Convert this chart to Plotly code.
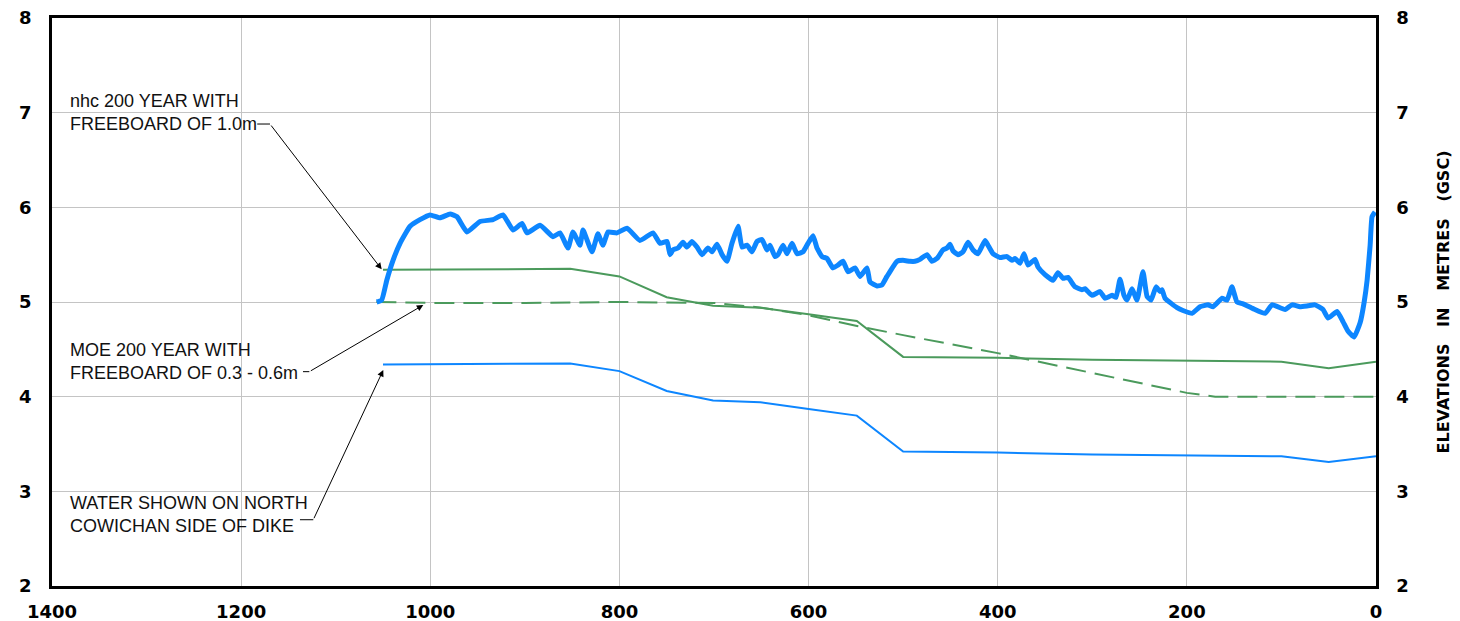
import plotly.graph_objects as go

# Dike crest / ground profile (thick blue), chainage in metres
ground_x = [1056.7, 1051.4, 1046.0, 1039.4, 1032.0, 1021.4, 1010.9, 1000.3, 989.7, 979.1, 971.7,
            961.2, 947.4, 933.7, 923.1, 912.5, 903.0, 897.7, 884.0, 870.2, 862.8, 854.4, 849.1,
            841.7, 838.5, 829.0, 822.7, 817.4, 812.1, 802.6, 792.0, 778.3, 764.5, 757.1,
            749.7, 746.5, 743.4, 738.1, 732.8, 728.6, 723.3, 718.0, 712.7, 706.3, 702.1, 696.8,
            691.5, 686.3, 681.0, 674.6, 670.4, 665.1, 659.8, 654.5, 649.2, 644.0, 640.8, 635.5,
            632.3, 627.0, 622.8, 617.5, 612.2, 605.9, 600.6, 595.3, 591.1, 585.8, 580.5, 574.2,
            568.9, 563.6, 558.3, 550.9, 545.6, 538.2, 535.0, 527.6, 522.4, 517.1, 506.5, 500.2,
            492.8, 487.5, 482.2, 474.8, 469.5, 464.2, 457.9, 453.6, 450.5, 447.3, 442.0, 436.7,
            431.4, 426.1, 420.9, 413.4, 410.3, 405.0, 397.6, 390.2, 384.9, 381.7, 376.4, 372.2,
            368.0, 360.6, 357.4, 350.0, 341.5, 336.3, 331.0, 325.7, 318.3, 310.9, 307.7, 300.3,
            291.8, 286.6, 279.2, 274.9, 270.7, 266.5, 263.3, 258.0, 252.7, 246.4, 242.1, 237.9,
            232.6, 228.4, 226.3, 223.1, 210.4, 204.1, 194.5, 186.1, 177.6, 172.3, 162.8, 157.5,
            152.3, 147.0, 140.6, 130.0, 117.3, 109.9, 96.2, 88.8, 80.4, 71.9, 64.5, 56.0, 50.7,
            41.2, 34.8, 29.5, 23.2, 16.8, 12.5, 9.4, 6.2, 4.2, 1.0]
ground_y = [5.00, 5.02, 5.23, 5.44, 5.62, 5.80, 5.87, 5.92, 5.89, 5.93, 5.90,
            5.74, 5.85, 5.87, 5.92, 5.76, 5.83, 5.73, 5.81, 5.69, 5.73, 5.57, 5.74,
            5.60, 5.76, 5.53, 5.72, 5.60, 5.74, 5.73, 5.78, 5.65, 5.73, 5.62,
            5.64, 5.50, 5.55, 5.57, 5.63, 5.58, 5.64, 5.58, 5.50, 5.57, 5.53, 5.61,
            5.50, 5.43, 5.62, 5.80, 5.58, 5.60, 5.53, 5.64, 5.66, 5.55, 5.60, 5.48,
            5.50, 5.60, 5.51, 5.62, 5.51, 5.53, 5.62, 5.70, 5.57, 5.48, 5.46, 5.36,
            5.39, 5.43, 5.32, 5.36, 5.27, 5.36, 5.21, 5.17, 5.18, 5.27, 5.43, 5.44,
            5.43, 5.43, 5.45, 5.50, 5.43, 5.46, 5.55, 5.57, 5.61, 5.54, 5.50, 5.53,
            5.63, 5.55, 5.51, 5.65, 5.60, 5.51, 5.47, 5.48, 5.44, 5.46, 5.41, 5.51,
            5.39, 5.45, 5.37, 5.29, 5.23, 5.31, 5.25, 5.26, 5.16, 5.13, 5.14, 5.07,
            5.11, 5.04, 5.07, 5.05, 5.24, 5.07, 5.02, 5.14, 5.02, 5.32, 5.06, 5.02,
            5.16, 5.11, 5.13, 5.04, 4.94, 4.91, 4.88, 4.95, 4.97, 4.95, 5.04, 5.02,
            5.16, 5.00, 4.98, 4.93, 4.88, 4.97, 4.92, 4.97, 4.95, 4.96, 4.97, 4.92, 4.83,
            4.90, 4.79, 4.69, 4.63, 4.78, 5.00, 5.23, 5.60, 5.90, 5.95]

# nhc 200 year with 1.0m freeboard (solid green) and water level (thin blue)
profile_x = [1050, 852, 800, 750, 701, 651, 600, 549, 500, 400, 300, 200, 100, 50, 0]
nhc_y = [5.34, 5.35, 5.27, 5.05, 4.96, 4.94, 4.87, 4.80, 4.42, 4.41, 4.39, 4.38, 4.37, 4.30, 4.37]
water_y = [4.34, 4.35, 4.27, 4.06, 3.96, 3.94, 3.87, 3.80, 3.42, 3.41, 3.39, 3.38, 3.37, 3.31, 3.37]

# MOE 200 year with 0.3 - 0.6m freeboard (dashed green)
moe_x = [1057, 1000, 900, 800, 700, 650, 600, 550, 500, 400, 300, 200, 170, 0]
moe_y = [5.00, 4.99, 4.99, 5.00, 4.99, 4.94, 4.86, 4.75, 4.65, 4.46, 4.25, 4.04, 4.00, 4.00]

x_ticks = [0, 200, 400, 600, 800, 1000, 1200, 1400]
y_ticks = [2, 3, 4, 5, 6, 7, 8]

BLUE = "#0d86ff"
GREEN = "#4b9a5c"
TICK_FONT = dict(family="DejaVu Sans", size=18, color="black", weight="bold")
LABEL_FONT = dict(family="Liberation Sans, Arial", size=18, color="#111111")

fig = go.Figure()

fig.add_trace(go.Scatter(x=moe_x, y=moe_y, mode="lines",
                         line=dict(color=GREEN, width=2, dash="20px,9px")))
fig.add_trace(go.Scatter(x=profile_x, y=nhc_y, mode="lines",
                         line=dict(color=GREEN, width=2)))
fig.add_trace(go.Scatter(x=profile_x, y=water_y, mode="lines", yaxis="y2",
                         line=dict(color=BLUE, width=2)))
fig.add_trace(go.Scatter(x=ground_x, y=ground_y, mode="lines",
                         line=dict(color=BLUE, width=5, shape="spline", smoothing=0.4)))

# leader labels
labels = [
    ("nhc 200 YEAR WITH<br>FREEBOARD OF 1.0m", 7.007),
    ("MOE 200 YEAR WITH<br>FREEBOARD OF 0.3 - 0.6m", 4.372),
    ("WATER SHOWN ON NORTH<br>COWICHAN SIDE OF DIKE", 2.755),
]
for txt, yy in labels:
    fig.add_annotation(x=1383, y=yy, xref="x", yref="y", text=txt, showarrow=False,
                       xanchor="left", yanchor="middle", align="left", font=LABEL_FONT)

# leader lines: (tick start x, tail x, tail y, tip x, tip y)
leaders = [
    (1183, 1169.5, 6.88, 1051.4, 5.345),
    (1134.6, 1127.9, 4.264, 1007.4, 4.968),
    (1137.8, 1123.7, 2.70, 1049.7, 4.282),
]
for x0, tx, ty, hx, hy in leaders:
    fig.add_shape(type="line", x0=x0, y0=ty, x1=tx, y1=ty, xref="x", yref="y",
                  line=dict(color="black", width=1))
    fig.add_annotation(x=hx, y=hy, ax=tx, ay=ty, xref="x", yref="y", axref="x", ayref="y",
                       text="", showarrow=True, arrowhead=2, arrowsize=1.3, arrowwidth=1,
                       arrowcolor="black")

axis_common = dict(showline=True, linecolor="black", linewidth=2.5, ticks="",
                   zeroline=False, tickfont=TICK_FONT, automargin=False)

sp = "\u00a0\u00a0 "
fig.update_layout(
    width=1460, height=621,
    margin=dict(l=52, r=84, t=18, b=35),
    plot_bgcolor="white", paper_bgcolor="white",
    showlegend=False,
    xaxis=dict(range=[1400, 0], tickvals=x_ticks, showgrid=True, gridcolor="#c4c4c4",
               gridwidth=1, mirror=True, ticklabelstandoff=8, **axis_common),
    yaxis=dict(range=[2, 8], tickvals=y_ticks, showgrid=True, gridcolor="#c4c4c4",
               gridwidth=1, mirror=True, ticklabelstandoff=14, **axis_common),
    yaxis2=dict(range=[2, 8], tickvals=y_ticks, overlaying="y", side="right",
                showgrid=False, ticklabelstandoff=14,
                title=dict(text=f"ELEVATIONS{sp}IN{sp}METRES{sp}(GSC)",
                           font=dict(family="DejaVu Sans", size=16, color="black",
                                     weight="bold"),
                           standoff=30),
                **axis_common),
)

fig.write_html("out.html", config={"displayModeBar": False},
               post_script="document.body.style.margin='0';document.body.style.overflow='hidden';")
